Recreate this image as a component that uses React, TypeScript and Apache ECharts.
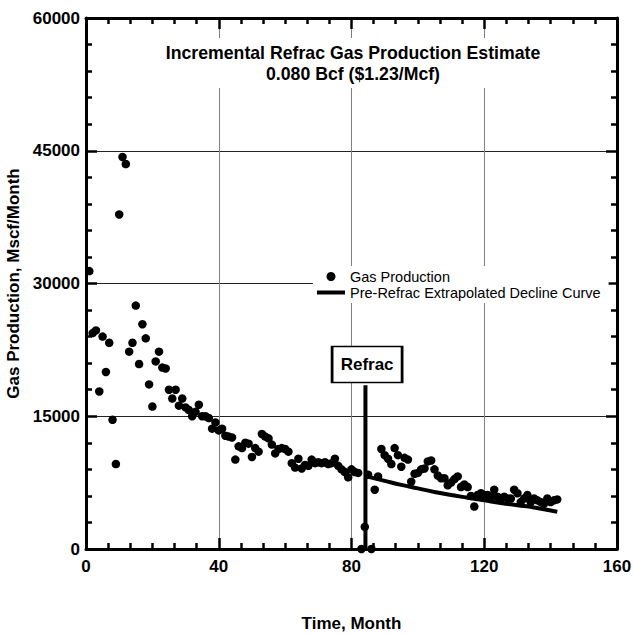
import React, { useEffect, useRef } from "react";
import * as echarts from "echarts";

const gasMonths = [
  1, 2, 3, 4, 5, 6, 7, 8, 9, 10, 11, 12, 13, 14, 15, 16, 17, 18, 19, 20,
  21, 22, 23, 24, 25, 26, 27, 28, 29, 30, 31, 32, 33, 34, 35, 36, 37, 38, 39, 40,
  41, 42, 43, 44, 45, 46, 47, 48, 49, 50, 51, 52, 53, 54, 55, 56, 57, 58, 59, 60,
  61, 62, 63, 64, 65, 66, 67, 68, 69, 70, 71, 72, 73, 74, 75, 76, 77, 78, 79, 80,
  81, 82, 83, 84, 85, 86, 87, 88, 89, 90, 91, 92, 93, 94, 95, 96, 97, 98, 99, 100,
  101, 102, 103, 104, 105, 106, 107, 108, 109, 110, 111, 112, 113, 114, 115, 116, 117, 118, 119, 120,
  121, 122, 123, 124, 125, 126, 127, 128, 129, 130, 131, 132, 133, 134, 135, 136, 137, 138, 139, 140,
  141, 142,
];

const gasValues = [
  31400, 24400, 24700, 17800, 24000, 20000, 23300, 14600, 9600, 37800, 44300, 43500, 22300, 23300, 27500, 20900, 25400, 23800, 18600, 16100,
  21200, 22300, 20500, 20400, 18000, 17000, 18000, 16200, 17000, 16000, 15700, 15000, 15500, 16300, 15000, 15000, 14800, 13600, 14300, 13400,
  13600, 12800, 12700, 12600, 10100, 11600, 11400, 12000, 11900, 10400, 11400, 11000, 13000, 12700, 12500, 11800, 10800, 11300, 11400, 11300,
  11000, 9700, 9200, 10200, 9100, 9500, 9400, 10100, 9700, 9800, 9700, 9800, 9600, 9700, 10200, 9400, 9000, 8700, 8100, 9000,
  8700, 8600, 0, 2500, 8400, 0, 6700, 8200, 11300, 10600, 10200, 9600, 11400, 10600, 9300, 10300, 10100, 7600, 8500, 8600,
  9000, 9100, 9900, 10000, 9000, 8300, 8000, 8000, 7200, 7500, 7900, 8200, 7000, 7300, 7000, 6000, 4800, 6100, 6300, 6100,
  6100, 5900, 6700, 5900, 5700, 5900, 5700, 5700, 6700, 6300, 5300, 5700, 6100, 5300, 5700, 5500, 5300, 5100, 5700, 5300,
  5500, 5600,
];

const declineMonths = [84.5, 90, 95, 100, 105, 110, 115, 120, 125, 130, 135, 142];
const declineValues = [8200, 7700, 7250, 6850, 6450, 6100, 5800, 5500, 5200, 4950, 4700, 4200];

const refracMonth = 84.2;
const refracLineTop = 18500;
const refracBoxCenter = 20850;

const titleLines = ["Incremental Refrac Gas Production Estimate", "0.080 Bcf ($1.23/Mcf)"];
const seriesNames = ["Gas Production", "Pre-Refrac Extrapolated Decline Curve"];

const FONT = "'Liberation Sans', Arial, Helvetica, sans-serif";
const LINE_ICON = "path://M0,0 L0.01,0 L0,0.01 Z M0,2.5 L28,2.5 L28,6.5 L0,6.5 Z M0,9 L0.01,9 L0,8.99 Z";

export default function App() {
  const ref = useRef<HTMLDivElement>(null);

  useEffect(() => {
    if (!ref.current) return;
    const chart = echarts.init(ref.current, null, { renderer: "svg" });

    const tickStyle = { color: "#000", width: 2.5 };
    const baseX = {
      type: "value",
      min: 0,
      max: 160,
      interval: 40,
      axisLine: { show: true, onZero: false, lineStyle: { color: "#000", width: 3 } },
      axisTick: { show: true, inside: true, length: 11, lineStyle: tickStyle },
      minorTick: { show: true, splitNumber: 6, length: 6, lineStyle: tickStyle },
    };
    const baseY = {
      type: "value",
      min: 0,
      max: 60000,
      interval: 15000,
      axisLine: { show: true, onZero: false, lineStyle: { color: "#000", width: 3 } },
      axisTick: { show: true, inside: true, length: 11, lineStyle: tickStyle },
      minorTick: { show: true, splitNumber: 5, length: 6, lineStyle: tickStyle },
    };

    chart.setOption({
      animation: false,
      backgroundColor: "#fff",
      textStyle: { fontFamily: FONT },
      title: {
        text: titleLines.join("\n"),
        left: 347,
        top: 38,
        textAlign: "center",
        backgroundColor: "#fff",
        padding: [4, 6],
        textStyle: {
          fontFamily: FONT,
          fontSize: 17.7,
          fontWeight: "bold",
          color: "#000",
          lineHeight: 21,
          align: "center",
        },
      },
      legend: {
        data: [
          { name: seriesNames[0], icon: "circle" },
          { name: seriesNames[1], icon: LINE_ICON, itemStyle: { color: "#000", borderWidth: 0 } },
        ],
        orient: "vertical",
        left: 313,
        top: 266,
        itemWidth: 28,
        itemHeight: 9,
        itemGap: 1,
        padding: [3, 8, 3, 4],
        backgroundColor: "#fff",
        textStyle: { fontFamily: FONT, fontSize: 14.5, color: "#000" },
      },
      grid: { left: 86, right: 16, top: 18, bottom: 86, containLabel: false, outerBoundsMode: "none" },
      xAxis: [
        {
          ...baseX,
          position: "bottom",
          name: "Time, Month",
          nameLocation: "middle",
          nameGap: 66,
          nameTextStyle: { fontFamily: FONT, fontSize: 17, fontWeight: "bold", color: "#000" },
          axisLabel: { show: true, margin: 9, fontFamily: FONT, fontSize: 17, fontWeight: "bold", color: "#000" },
          splitLine: { show: true, lineStyle: { color: "#808080", width: 1 } },
        },
        {
          ...baseX,
          position: "top",
          axisLabel: { show: false },
          splitLine: { show: false },
        },
      ],
      yAxis: [
        {
          ...baseY,
          position: "left",
          name: "Gas Production, Mscf/Month",
          nameLocation: "middle",
          nameGap: 64,
          nameRotate: 90,
          nameTextStyle: { fontFamily: FONT, fontSize: 17, fontWeight: "bold", color: "#000" },
          axisLabel: {
            show: true,
            margin: 6,
            fontFamily: FONT,
            fontSize: 17,
            fontWeight: "bold",
            color: "#000",
            formatter: (v: number) => String(v),
          },
          splitLine: { show: true, lineStyle: { color: "#222", width: 1 } },
        },
        {
          ...baseY,
          position: "right",
          axisLabel: { show: false },
          splitLine: { show: false },
        },
      ],
      series: [
        {
          name: seriesNames[0],
          type: "scatter",
          xAxisIndex: 0,
          yAxisIndex: 0,
          symbol: "circle",
          symbolSize: 8.5,
          itemStyle: { color: "#000", opacity: 1 },
          data: gasMonths.map((m, i) => [m, gasValues[i]]),
          z: 3,
        },
        {
          name: seriesNames[1],
          type: "line",
          xAxisIndex: 0,
          yAxisIndex: 0,
          smooth: true,
          symbol: "none",
          lineStyle: { color: "#000", width: 4 },
          itemStyle: { color: "#000" },
          data: declineMonths.map((m, i) => [m, declineValues[i]]),
          z: 3,
        },
        {
          name: "Refrac",
          type: "line",
          xAxisIndex: 0,
          yAxisIndex: 0,
          symbol: "none",
          lineStyle: { color: "#000", width: 4 },
          data: [
            [refracMonth, 0],
            [refracMonth, refracLineTop],
          ],
          z: 4,
          markPoint: {
            symbol: "rect",
            symbolSize: [70, 36],
            itemStyle: { color: "#fff", borderColor: "#000", borderWidth: 2 },
            label: {
              show: true,
              formatter: "Refrac",
              fontFamily: FONT,
              fontSize: 17,
              fontWeight: "bold",
              color: "#000",
            },
            data: [{ coord: [refracMonth + 0.5, refracBoxCenter] }],
          },
        },
      ],
    });

    return () => chart.dispose();
  }, []);

  return (
    <div
      ref={ref}
      style={{ position: "fixed", left: 0, top: 0, width: 633, height: 635, background: "#fff" }}
    />
  );
}
